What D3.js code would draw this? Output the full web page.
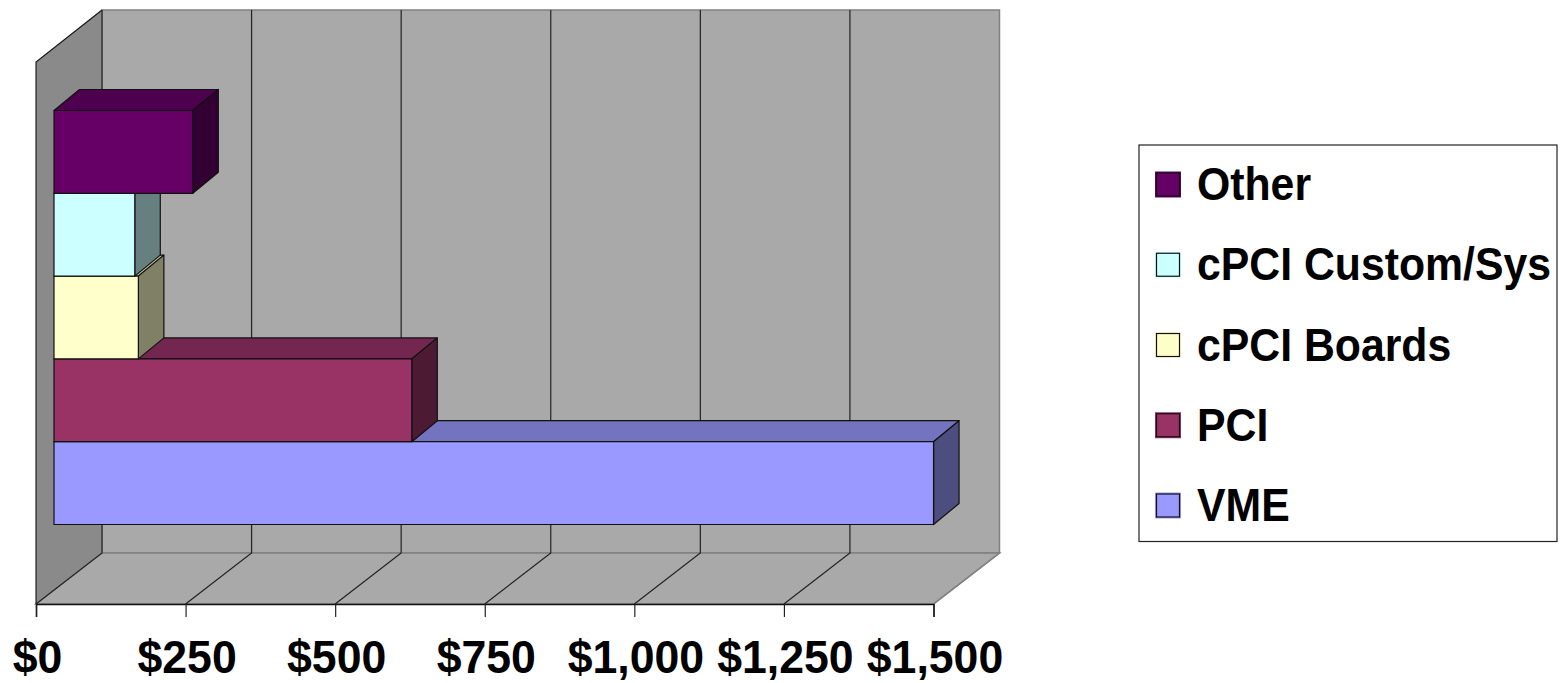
<!DOCTYPE html>
<html>
<head>
<meta charset="utf-8">
<script src="https://cdn.jsdelivr.net/npm/d3@7"></script>
<style>
  html, body { margin: 0; padding: 0; background: #fff; }
  svg { display: block; }
  text { font-family: "Liberation Sans", Arial, sans-serif; font-weight: bold; fill: #000; }
</style>
</head>
<body>
<script>
// bottom to top, same order as they are painted
const categories = ['VME', 'PCI', 'cPCI Boards', 'cPCI Custom/Sys', 'Other']
const values = [1470, 598, 141, 135, 232]
const faceColors = ['#9999ff', '#993366', '#ffffcc', '#ccffff', '#660066']
const topColors = ['#7373bf', '#732650', '#bfbf99', '#99bfbf', '#4d004d']
const sideColors = ['#4d4d80', '#4d1a33', '#808066', '#668080', '#330033']
const tickValues = [0, 250, 500, 750, 1000, 1250, 1500]

const WIDTH = 1564
const HEIGHT = 683
const FLOOR_Y = 604
const WALL_TOP = 10
const DEPTH_X = 66
const DEPTH_Y = 51
const BAR_OFFSET = 18
const BAR_DEPTH_X = 25.5
const BAR_DEPTH_Y = 21

const svg = d3.select('body').append('svg')
  .attr('width', WIDTH)
  .attr('height', HEIGHT)

const x = d3.scaleLinear().domain([0, 1500]).range([36, 933.5])
const y = d3.scaleBand().domain(categories).range([524.5, 110.5])

let pts = function (list) {
  return list.map(p => p.join(',')).join(' ')
}

// walls and floor
let left = x(0), right = x(1500), back = FLOOR_Y - DEPTH_Y

svg.append('polygon')
  .attr('points', pts([[left + DEPTH_X, WALL_TOP], [right + DEPTH_X, WALL_TOP], [right + DEPTH_X, back], [left + DEPTH_X, back]]))
  .attr('fill', '#a9a9a9').attr('stroke', '#808080').attr('stroke-width', 1.5)

svg.append('polygon')
  .attr('points', pts([[left, FLOOR_Y], [left + DEPTH_X, back], [right + DEPTH_X, back], [right, FLOOR_Y]]))
  .attr('fill', '#a9a9a9').attr('stroke', '#808080').attr('stroke-width', 1.5)

svg.append('polygon')
  .attr('points', pts([[left, 62], [left + DEPTH_X, WALL_TOP], [left + DEPTH_X, back], [left, FLOOR_Y]]))
  .attr('fill', '#8a8a8a')

svg.append('polyline')
  .attr('points', pts([[left, FLOOR_Y], [left, 62], [left + DEPTH_X, WALL_TOP]]))
  .attr('fill', 'none').attr('stroke', '#111').attr('stroke-width', 1.1)

// gridlines on back wall and floor
svg.append('g').selectAll('polyline')
  .data(tickValues)
  .join('polyline')
  .attr('points', d => pts([[x(d) + DEPTH_X, WALL_TOP], [x(d) + DEPTH_X, back], [x(d), FLOOR_Y]]))
  .attr('fill', 'none')
  .attr('stroke', d => d == 1500 ? 'none' : '#222')
  .attr('stroke-width', 1.2)

svg.append('line')
  .attr('x1', right).attr('y1', FLOOR_Y).attr('x2', right + DEPTH_X).attr('y2', back)
  .attr('stroke', '#808080').attr('stroke-width', 1.5)

// the bars
let bars = svg.append('g').selectAll('g')
  .data(categories)
  .join('g')
  .attr('stroke', '#111')
  .attr('stroke-width', 1.2)
  .attr('stroke-linejoin', 'round')

let x0 = x(0) + BAR_OFFSET

bars.append('polygon')
  .attr('fill', (d, i) => topColors[i])
  .attr('points', (d, i) => {
    let x1 = x(values[i]) + BAR_OFFSET, t = y(d)
    return pts([[x0, t], [x0 + BAR_DEPTH_X, t - BAR_DEPTH_Y], [x1 + BAR_DEPTH_X, t - BAR_DEPTH_Y], [x1, t]])
  })

bars.append('polygon')
  .attr('fill', (d, i) => sideColors[i])
  .attr('points', (d, i) => {
    let x1 = x(values[i]) + BAR_OFFSET, t = y(d), b = t + y.bandwidth()
    return pts([[x1, t], [x1 + BAR_DEPTH_X, t - BAR_DEPTH_Y], [x1 + BAR_DEPTH_X, b - BAR_DEPTH_Y], [x1, b]])
  })

bars.append('rect')
  .attr('fill', (d, i) => faceColors[i])
  .attr('x', x0)
  .attr('y', d => y(d))
  .attr('width', (d, i) => x(values[i]) - x(0))
  .attr('height', y.bandwidth())

// value axis
let axis = svg.append('g')
  .attr('transform', `translate(0, ${FLOOR_Y})`)
  .call(d3.axisBottom(x)
    .tickValues(tickValues)
    .tickSize(13)
    .tickPadding(0)
    .tickFormat(d => '$' + d3.format(',')(d)))

axis.select('.domain').attr('stroke', '#111').attr('stroke-width', 1.5)
axis.selectAll('.tick line').attr('stroke', '#222').attr('stroke-width', 1.2)
axis.selectAll('.tick text').remove()
axis.selectAll('.tick').append('text')
  .attr('transform', 'translate(1, 69) scale(0.97, 1)')
  .attr('text-anchor', 'middle')
  .attr('font-size', 46)
  .text(d => '$' + d3.format(',')(d))

// legend
let legend = svg.append('g')

legend.append('rect')
  .attr('x', 1139).attr('y', 145)
  .attr('width', 418).attr('height', 396.5)
  .attr('fill', '#fff').attr('stroke', '#222').attr('stroke-width', 1.2)

let ly = d3.scalePoint().domain(categories.slice().reverse()).range([184.5, 505.5])

let items = legend.selectAll('g.item')
  .data(categories)
  .join('g')
  .attr('class', 'item')
  .attr('transform', d => `translate(1155, ${ly(d)})`)

items.append('rect')
  .attr('x', 0).attr('y', -13)
  .attr('width', 26).attr('height', 26)
  .attr('fill', (d, i) => faceColors[i])

items.append('rect')
  .attr('x', 1.5).attr('y', -11.5)
  .attr('width', 23).attr('height', 23)
  .attr('fill', 'none')
  .attr('stroke', '#111')
  .attr('stroke-width', 1.2)

items.append('text')
  .attr('transform', 'translate(42, 15.5) scale(0.91, 1)')
  .attr('font-size', 47)
  .text(d => d)
</script>
</body>
</html>
